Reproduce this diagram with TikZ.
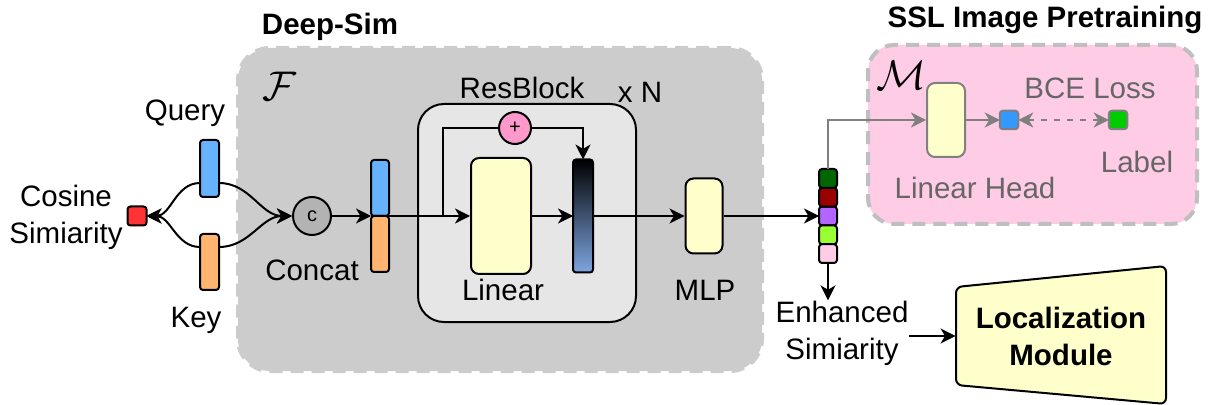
\documentclass[tikz,border=0pt]{standalone}
\usepackage{fontspec}
\setmainfont{Liberation Sans}
\usepackage{xcolor}
\usetikzlibrary{arrows.meta,positioning,calc}

\definecolor{qblue}{HTML}{66B2FF}
\definecolor{korange}{HTML}{FFB570}
\definecolor{cred}{HTML}{FF3333}
\definecolor{cgray}{HTML}{B3B3B3}
\definecolor{lightyel}{HTML}{FFFFCC}
\definecolor{resgray}{HTML}{E6E6E6}
\definecolor{pluspink}{HTML}{FF99CC}
\definecolor{simgray}{HTML}{CCCCCC}
\definecolor{sslpink}{HTML}{FFCCE6}
\definecolor{dashgray}{HTML}{BFBFBF}
\definecolor{gradblue}{HTML}{7EA6E0}
\definecolor{headgray}{HTML}{808080}
\definecolor{headtxt}{HTML}{666666}
\definecolor{lossblue}{HTML}{3399FF}
\definecolor{lossgreen}{HTML}{00CC00}
\definecolor{cellA}{HTML}{006600}
\definecolor{cellB}{HTML}{990000}
\definecolor{cellC}{HTML}{B266FF}
\definecolor{cellD}{HTML}{99FF33}
\definecolor{cellE}{HTML}{FFCCE6}

\newcommand{\figfont}{\fontsize{14.75}{18.5}\selectfont}

\begin{document}
\begin{tikzpicture}[
    x=0.5pt, y=-0.5pt,
    >={Stealth[length=7.5pt,width=7.5pt,inset=2.2pt]},
    every node/.style={font=\figfont},
    txt/.style={align=center,inner sep=0pt},
    ttl/.style={txt,font=\figfont\bfseries},
    calg/.style={txt,font=\fontsize{20}{22}\selectfont},
    region/.style={rounded corners=16pt,line width=2pt,dash pattern=on 6.5pt off 4pt},
    vec/.style={draw,line width=1pt,rounded corners=1.5pt,minimum width=9.5pt,
                inner sep=0pt,outer sep=0pt},
    cell/.style={vec,minimum width=9pt,minimum height=9.4pt},
    blk/.style={draw,line width=1pt,rounded corners=4pt,fill=lightyel,inner sep=0pt},
    op/.style={draw,circle,line width=1pt,inner sep=0pt,font=\fontsize{10}{11}\selectfont},
    arr/.style={->,line width=1pt},
    garr/.style={->,line width=1pt,draw=headgray},
  ]
  \useasboundingbox (0,0) rectangle (1213,405);

  % --- regions ---
  \node[region,fill=simgray,draw=simgray,minimum width=262pt,minimum height=161.5pt]
    (deepsim) at (500,209.5) {};
  \node[region,fill=sslpink,draw=dashgray,rounded corners=13pt,minimum width=164.5pt,
        minimum height=89.5pt] (ssl) at (1032.5,134.5) {};
  \node[ttl] (deepsimlbl) at (330,27) {Deep-Sim};
  \node[ttl] (ssllbl) at (1045,20) {SSL Image Pretraining};
  \node[calg] (fF) at (279,86) {$\mathcal{F}$};
  \node[calg] (fM) at (901,75) {$\mathcal{M}$};

  % --- inputs ---
  \node[vec,fill=cred,minimum height=9.5pt] (cs) at (137,216) {};
  \node[vec,fill=qblue,minimum height=28.5pt] (qb) at (209.5,168.5) {};
  \node[vec,fill=korange,minimum height=28pt] (kb) at (209.5,262) {};
  \node[txt] (qlbl) at (185,113) {Query};
  \node[txt] (klbl) at (196,320) {Key};
  \node[txt] (cslbl) at (66,217) {Cosine\\Simiarity};
  \draw[arr] ($(qb.west)+(0,14.5)$) to[out=180,in=0] (cs.east);
  \draw[arr] ($(kb.west)+(0,-15)$) to[out=180,in=0] (cs.east);

  % --- concat ---
  \node[op,fill=cgray,minimum size=19pt] (cc) at (312,216) {c};
  \node[txt] (cclbl) at (312,270) {Concat};
  \draw[arr] ($(qb.east)+(0,14.5)$) to[out=0,in=180] (cc.west);
  \draw[arr] ($(kb.east)+(0,-15)$) to[out=0,in=180] (cc.west);
  \node[vec,fill=qblue,minimum width=9pt,minimum height=28pt] (cq) at (380,188) {};
  \node[vec,fill=korange,minimum width=9pt,minimum height=28pt,below=0pt of cq] (ck) {};
  \draw[arr] (cc.east) -- (cq.south west);

  % --- resblock ---
  \node[draw,line width=1pt,fill=resgray,rounded corners=13pt,minimum width=109pt,
        minimum height=109pt] (res) at (527,213) {};
  \node[txt] (reslbl) at (522,88) {ResBlock};
  \node[txt] (xn) at (640,92) {x N};
  \node[blk,minimum width=30pt,minimum height=58pt] (lin) at (501,216) {};
  \node[txt] (linlbl) at (503,290) {Linear};
  \node[vec,top color=black,bottom color=gradblue,minimum width=10pt,
        minimum height=56.5pt] (gbar) at (583,216) {};
  \node[op,fill=pluspink,minimum size=16pt] (plus) at (515,128) {+};
  \coordinate (split) at (443,216);
  \draw[arr] (cq.south east) -- (lin.west);
  \draw[line width=1pt] (split) |- (plus.west);
  \draw[arr] (plus.east) -| (gbar.north);
  \draw[arr] (lin.east) -- (gbar.west);

  % --- mlp + output vector ---
  \node[blk,minimum width=18.5pt,minimum height=37.5pt] (mlp) at (704,216) {};
  \node[txt] (mlplbl) at (705,290) {MLP};
  \node[cell,fill=cellC] (s3) at (828,216) {};
  \node[cell,fill=cellB,above=0pt of s3] (s2) {};
  \node[cell,fill=cellA,above=0pt of s2] (s1) {};
  \node[cell,fill=cellD,below=0pt of s3] (s4) {};
  \node[cell,fill=cellE,below=0pt of s4] (s5) {};
  \draw[arr] (gbar.east) -- (mlp.west);
  \draw[arr] (mlp.east) -- (s3.west);

  \node[txt] (enh) at (842,333) {Enhanced\\Simiarity};
  \draw[arr] (s5.south) -- (s5.south |- enh.north);

  % --- ssl head ---
  \node[blk,draw=headgray,minimum width=19pt,minimum height=37pt] (lh) at (946,120) {};
  \node[txt,text=headtxt] (lhlbl) at (975,188) {Linear Head};
  \node[vec,draw=headgray,fill=lossblue,minimum width=9.25pt,minimum height=9.25pt]
    (bsq) at (1009,120) {};
  \node[vec,draw=headgray,fill=lossgreen,minimum width=9.25pt,minimum height=9.25pt]
    (gsq) at (1118,120) {};
  \node[txt,text=headtxt] (bce) at (1090,88) {BCE Loss};
  \node[txt,text=headtxt] (lbl) at (1137,162) {Label};
  \draw[garr] (s1.north) |- (lh.west);
  \draw[garr] (lh.east) -- (bsq.west);
  \draw[<->,line width=1pt,draw=headgray,dash pattern=on 3pt off 3.5pt] (bsq.east) -- (gsq.west);

  % --- localization ---
  \filldraw[fill=lightyel,line width=1pt,rounded corners=3pt]
    (956,287) -- (1166,266) -- (1166,404) -- (956,385) -- cycle;
  \node[ttl,minimum width=105pt,minimum height=49pt] (loc) at (1061,336) {Localization\\Module};
  \draw[arr] (enh.east |- loc.west) -- (loc.west);

\end{tikzpicture}
\end{document}
